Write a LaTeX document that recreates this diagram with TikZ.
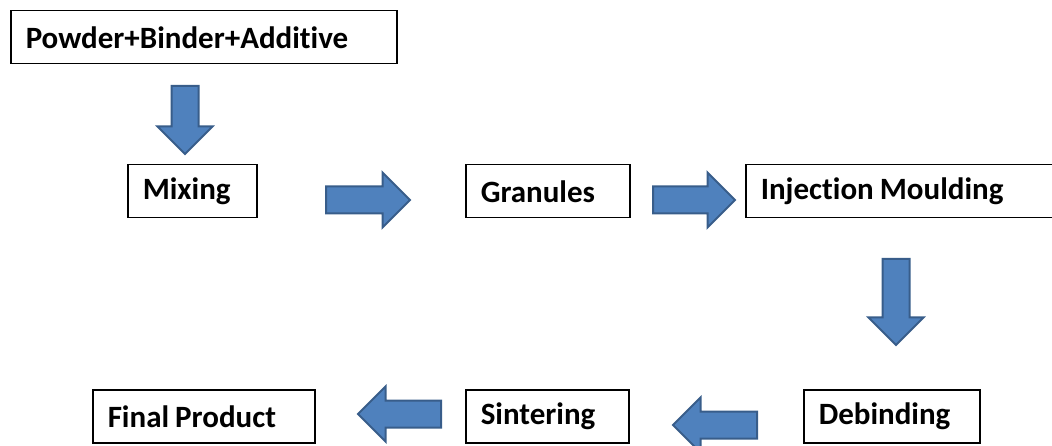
\documentclass[tikz,border=0pt]{standalone}
\usepackage{fontspec}
\setmainfont[Ligatures=NoCommon, RawFeature={-liga;-clig}]{Carlito}
\usetikzlibrary{shapes.arrows}

\definecolor{arrowfill}{HTML}{4F81BD}
\definecolor{arrowline}{HTML}{385D8A}

\tikzset{
  stepbox/.style={draw=black, line width=1.5pt, anchor=north west,
    inner xsep=15pt, inner ysep=0pt, minimum height=53pt, align=left,
    font=\fontsize{31}{36}\selectfont\bfseries,
    execute at begin node={\spaceskip=6pt\relax}},
  blockarrow/.style={single arrow, draw=arrowline, fill=arrowfill,
    line width=2pt, anchor=tail, inner sep=12.5pt, minimum width=53pt,
    single arrow head extend=14pt, single arrow head indent=0pt}
}

\begin{document}
\begin{tikzpicture}[x=1pt, y=-1pt]
    \path[use as bounding box, clip] (0,0) rectangle (1052,446);

    % process steps
    \node[stepbox, text width=356pt] (powder) at (10,10) {Powder+Binder+Additive};
    \node[stepbox, text width=99pt] (mixing) at (127,164) {Mixing};
    \node[stepbox, text width=134pt] (granules) at (465,164) {Granules};
    \node[stepbox, text width=290pt] (injection) at (745,164) {Injection Moulding};
    \node[stepbox, text width=146pt] (debinding) at (803,389) {Debinding};
    \node[stepbox, text width=133pt] (sintering) at (465,389) {Sintering};
    \node[stepbox, text width=192pt] (final) at (92,389) {Final Product};

    % block arrows between the steps (placed by their tails)
    \node[blockarrow, rotate=-90, minimum height=68pt] (powder_mixing) at (185,85) {};
    \node[blockarrow, minimum height=84pt] (mixing_granules) at (325,200) {};
    \node[blockarrow, minimum height=82pt] (granules_injection) at (652,200) {};
    \node[blockarrow, rotate=-90, minimum height=86pt] (injection_debinding) at (896,258) {};
    \node[blockarrow, rotate=180, minimum height=84pt] (debinding_sintering) at (758,425) {};
    \node[blockarrow, rotate=180, minimum height=83pt] (sintering_final) at (442,414) {};

\end{tikzpicture}
\end{document}
